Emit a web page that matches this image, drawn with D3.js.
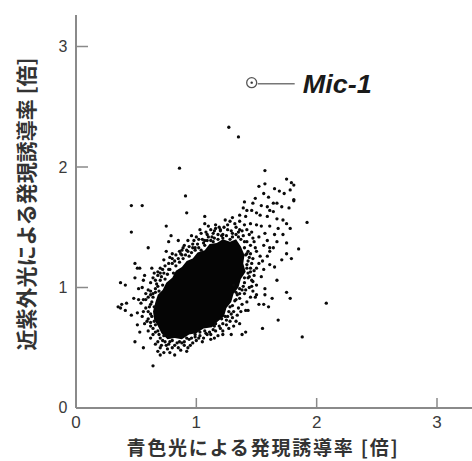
<!DOCTYPE html>
<html><head><meta charset="utf-8">
<script src="https://cdn.jsdelivr.net/npm/d3@7"></script>
<style>html,body{margin:0;padding:0;background:#fff;}svg{display:block;}</style>
</head><body>
<svg id="chart" width="472" height="461"></svg>
<script>
const xTicks = [0, 1, 2, 3];
const yTicks = [0, 1, 2, 3];
const xTitle = "青色光による発現誘導率 [倍]";
const yTitle = "近紫外光による発現誘導率 [倍]";
const mic1Label = "Mic-1";
const mic1 = [1.46, 2.70];

// saturated (solid black) core of the cloud
const coreOutline = [[0.64,0.80],[0.66,0.88],[0.68,0.94],[0.72,0.98],[0.75,1.04],[0.80,1.08],[0.83,1.14],[0.88,1.17],[0.92,1.22],[0.97,1.24],[1.01,1.29],[1.07,1.31],[1.11,1.36],[1.17,1.37],[1.22,1.40],[1.28,1.38],[1.33,1.40],[1.37,1.34],[1.40,1.27],[1.39,1.20],[1.41,1.13],[1.37,1.07],[1.35,1.00],[1.31,0.95],[1.29,0.88],[1.25,0.83],[1.23,0.76],[1.18,0.72],[1.13,0.67],[1.06,0.66],[1.00,0.62],[0.94,0.61],[0.88,0.57],[0.82,0.58],[0.76,0.57],[0.71,0.62],[0.68,0.68],[0.65,0.73]];

// individual genes outside the saturated core [blue, near-UV]
const outliers = [[1.27,2.33],[1.35,2.25],[0.86,1.99],[1.57,1.97],[0.91,1.76],[0.46,1.68],[0.55,1.68],[0.92,1.62],[0.46,1.46],[0.60,1.33],[0.75,1.51],[1.92,1.54],[1.85,1.32],[2.08,0.87],[1.88,0.59],[1.68,0.73],[1.55,0.66],[0.64,0.35],[0.37,1.04],[0.41,1.02],[0.35,0.84],[0.49,0.55],[0.56,0.50],[1.78,0.91],[1.75,0.96],[1.81,1.72]];
const upperRight = [[1.75,1.90],[1.79,1.87],[1.57,1.86],[1.81,1.85],[1.52,1.84],[1.65,1.82],[1.78,1.81],[1.69,1.80],[1.73,1.78],[1.56,1.78],[1.60,1.75],[1.49,1.74],[1.81,1.73],[1.40,1.71],[1.64,1.70],[1.67,1.70],[1.47,1.70],[1.71,1.67],[1.77,1.66],[1.54,1.68],[1.59,1.67],[1.39,1.66],[1.42,1.64],[1.46,1.64],[1.61,1.64],[1.64,1.63],[1.50,1.62],[1.53,1.60],[1.36,1.60],[1.41,1.59],[1.59,1.59],[1.67,1.57],[1.72,1.56],[1.75,1.53],[1.24,1.56],[1.28,1.55],[1.32,1.53],[1.45,1.53],[1.50,1.52],[1.54,1.51],[1.61,1.51],[1.68,1.49],[1.78,1.49],[1.36,1.48],[1.46,1.46],[1.57,1.45],[1.65,1.44],[1.72,1.44],[1.47,1.41],[1.59,1.39],[1.67,1.38],[1.75,1.37],[1.56,1.35],[1.61,1.33]];
const upperLeft = [[1.07,1.59],[1.03,1.48],[1.07,1.53],[1.10,1.51],[1.16,1.49],[1.20,1.48],[0.79,1.43],[0.85,1.39],[0.93,1.39],[0.98,1.39],[0.77,1.38],[0.89,1.33],[0.99,1.33],[1.07,1.35],[1.09,1.44],[1.13,1.42],[1.07,1.39],[1.14,1.38],[1.18,1.44],[1.22,1.41],[0.96,1.43],[1.00,1.42],[1.04,1.45],[1.12,1.48],[1.16,1.52],[1.26,1.52],[1.30,1.58],[1.36,1.55],[1.40,1.52],[1.42,1.48]];
const lowerLeft = [[0.75,1.30],[0.73,1.23],[0.80,1.24],[0.49,1.20],[0.51,1.16],[0.53,1.16],[0.63,1.16],[0.70,1.16],[0.68,1.10],[0.49,1.08],[0.56,1.06],[0.52,0.99],[0.62,1.04],[0.66,0.99],[0.62,0.94],[0.64,0.92],[0.48,0.91],[0.52,0.90],[0.56,0.90],[0.38,0.86],[0.42,0.87],[0.37,0.83],[0.41,0.81],[0.46,0.77],[0.51,0.79],[0.55,0.76],[0.51,0.69],[0.59,0.72],[0.62,0.68],[0.53,0.63],[0.64,0.61],[0.68,0.55],[0.71,0.52],[0.68,0.47],[0.70,0.44],[0.75,0.52],[0.80,0.50],[0.82,0.44],[0.87,0.48],[0.92,0.47],[0.88,0.54],[0.95,0.52],[0.99,0.59],[1.03,0.63],[1.09,0.61],[1.14,0.65],[1.20,0.66],[1.16,0.70],[0.85,0.50],[0.76,0.49],[0.72,0.56],[0.64,0.66],[0.60,0.74],[0.58,0.83],[0.58,0.90],[0.60,0.98],[0.64,1.08],[0.70,1.12],[0.74,1.18],[0.80,1.28],[0.86,1.30],[0.90,1.35]];
const lowerRight = [[1.75,1.28],[1.79,1.24],[1.71,1.23],[1.61,1.30],[1.64,1.33],[1.59,1.26],[1.61,1.19],[1.65,1.17],[1.56,1.15],[1.67,1.06],[1.54,1.09],[1.57,0.99],[1.43,1.08],[1.47,1.05],[1.46,1.01],[1.50,0.94],[1.49,0.92],[1.57,0.94],[1.63,0.91],[1.52,0.86],[1.56,0.86],[1.60,0.84],[1.38,0.86],[1.41,0.81],[1.43,0.81],[1.31,0.80],[1.34,0.77],[1.28,0.72],[1.36,0.70],[1.22,0.61],[1.29,0.61],[1.38,0.61],[1.41,0.63],[1.25,0.69],[1.24,0.76],[1.45,0.92],[1.50,1.02],[1.34,0.94],[1.36,0.99],[1.31,1.02],[1.45,1.13],[1.50,1.16],[1.42,1.19],[1.47,1.24],[1.53,1.26],[1.41,1.27],[1.44,1.44],[1.48,1.38],[1.52,1.42],[1.50,1.30],[1.46,1.20],[1.52,1.20],[1.55,1.22],[1.48,1.10],[1.44,1.00],[1.40,0.95],[1.42,0.88],[1.35,0.83],[1.30,0.75],[1.27,0.66],[1.18,0.60],[1.12,0.57],[1.05,0.55],[0.97,0.54]];
const coreEdge = [[1.30,1.45],[1.35,1.42],[1.40,1.38],[1.28,1.40],[1.43,1.30],[1.45,1.35],[1.38,1.47],[1.33,1.50],[1.26,1.48],[1.22,1.44],[0.62,0.86],[0.64,0.95],[0.67,1.03],[0.70,1.06],[0.73,1.12],[0.78,1.15],[0.80,1.20],[0.85,1.24],[0.88,1.27],[0.92,1.31],[0.97,1.33],[1.01,1.36],[1.05,1.40],[1.10,1.42],[1.14,1.45],[1.20,1.47],[1.44,1.25],[1.43,1.12],[1.40,1.08],[1.38,0.98],[1.33,0.90],[1.30,0.85],[1.26,0.76],[1.22,0.70],[1.16,0.64],[1.08,0.62],[1.02,0.58],[0.94,0.57],[0.90,0.52],[0.82,0.52],[0.78,0.55],[0.73,0.60],[0.68,0.64],[0.65,0.72],[0.62,0.78]];
const coreBand = [[0.60,0.80],[0.61,0.84],[0.63,0.76],[0.62,0.71],[0.66,0.69],[0.63,0.88],[0.65,0.84],[0.60,0.92],[0.62,0.97],[0.66,0.96],[0.69,0.97],[0.68,1.01],[0.72,1.02],[0.66,1.06],[0.71,1.09],[0.74,1.07],[0.76,1.11],[0.77,1.15],[0.81,1.12],[0.83,1.18],[0.82,1.22],[0.86,1.21],[0.89,1.24],[0.87,1.28],[0.91,1.27],[0.94,1.26],[0.93,1.30],[0.96,1.29],[0.99,1.31],[1.02,1.33],[1.04,1.31],[1.06,1.37],[1.09,1.39],[1.12,1.39],[1.15,1.41],[1.18,1.40],[1.21,1.43],[1.25,1.43],[1.30,1.42],[1.33,1.44],[1.37,1.40],[1.40,1.33],[1.42,1.28],[1.43,1.22],[1.42,1.16],[1.45,1.16],[1.44,1.09],[1.40,1.04],[1.39,1.01],[1.36,0.95],[1.33,0.96],[1.32,0.89],[1.28,0.84],[1.27,0.80],[1.25,0.73],[1.21,0.74],[1.19,0.68],[1.15,0.68],[1.11,0.63],[1.07,0.64],[1.03,0.60],[0.99,0.61],[0.96,0.58],[0.92,0.58],[0.90,0.55],[0.86,0.55],[0.84,0.54],[0.80,0.56],[0.77,0.53],[0.74,0.55],[0.70,0.58],[0.69,0.61],[0.66,0.63],[0.70,0.50],[0.73,0.46],[0.78,0.46],[0.93,0.50],[1.00,0.56],[1.06,0.58],[1.12,0.61],[1.15,0.58],[1.22,0.64],[1.31,0.68],[1.33,0.72],[1.29,0.78],[1.37,0.80],[1.36,0.91],[1.41,0.98],[1.47,0.97],[1.46,1.06],[1.48,1.14],[1.45,1.28],[1.49,1.33],[1.42,1.38],[1.39,1.43],[1.35,1.46],[1.29,1.47],[1.23,1.50],[1.19,1.50],[1.15,1.47],[1.08,1.46],[1.02,1.40],[0.97,1.36],[0.94,1.34],[0.88,1.31],[0.83,1.27],[0.78,1.25],[0.77,1.20],[0.72,1.15],[0.68,1.13],[0.65,1.12],[0.57,1.10],[0.55,1.00],[0.58,0.95],[0.54,0.87],[0.56,0.80],[0.57,0.70],[0.60,0.64],[0.62,0.58],[0.66,0.53]];

const points = [].concat(outliers, upperRight, upperLeft, lowerLeft, lowerRight, coreEdge, coreBand);

const svg = d3.select("#chart");
const x = d3.scaleLinear().domain([0, 3]).range([76, 437]);
const y = d3.scaleLinear().domain([0, 3]).range([408, 46.5]);
const axisColor = "#8a8a8a";
const textColor = "#3a3a3a";

// core
svg.append("path")
  .datum(coreOutline)
  .attr("d", d3.line().x(d => x(d[0])).y(d => y(d[1])).curve(d3.curveLinearClosed))
  .attr("fill", "#050505");

// points
svg.append("g").selectAll("circle").data(points).join("circle")
  .attr("cx", d => x(d[0])).attr("cy", d => y(d[1]))
  .attr("r", 1.65).attr("fill", "#0a0a0a");

// axes lines
svg.append("line").attr("x1", x(0)).attr("x2", 472).attr("y1", y(0)).attr("y2", y(0))
  .attr("stroke", axisColor).attr("stroke-width", 2);
svg.append("line").attr("x1", x(0)).attr("x2", x(0)).attr("y1", 15).attr("y2", y(0))
  .attr("stroke", axisColor).attr("stroke-width", 2);

// ticks
svg.append("g").selectAll("line").data(xTicks.filter(t => t > 0)).join("line")
  .attr("x1", d => x(d)).attr("x2", d => x(d)).attr("y1", y(0)).attr("y2", y(0) - 10)
  .attr("stroke", axisColor).attr("stroke-width", 1.5);
svg.append("g").selectAll("line").data(yTicks.filter(t => t > 0)).join("line")
  .attr("y1", d => y(d)).attr("y2", d => y(d)).attr("x1", x(0)).attr("x2", x(0) + 12)
  .attr("stroke", axisColor).attr("stroke-width", 1.5);

// tick labels
svg.append("g").selectAll("text").data(xTicks).join("text")
  .attr("x", d => x(d)).attr("y", 428)
  .attr("text-anchor", "middle")
  .attr("font-family", "Liberation Sans, Arial, sans-serif").attr("font-size", 17)
  .attr("fill", textColor).text(d => d);
svg.append("g").selectAll("text").data(yTicks).join("text")
  .attr("x", 63).attr("y", d => y(d) + (d === 0 ? -1 : 0))
  .attr("dy", "0.35em")
  .attr("text-anchor", "middle")
  .attr("font-family", "Liberation Sans, Arial, sans-serif").attr("font-size", 16)
  .attr("fill", textColor).text(d => d);

// axis titles
svg.append("text").attr("x", 263).attr("y", 455)
  .attr("text-anchor", "middle")
  .attr("font-family", "Noto Sans CJK JP").attr("font-weight", "bold").attr("font-size", 19)
  .attr("letter-spacing", 1.8)
  .attr("fill", "#333").text(xTitle);
svg.append("text").attr("transform", "translate(25,204) rotate(-90)")
  .attr("text-anchor", "middle").attr("dominant-baseline", "central")
  .attr("font-family", "Noto Sans CJK JP").attr("font-weight", "bold").attr("font-size", 21)
  .attr("fill", "#333").text(yTitle);

// Mic-1 annotation
const mx = x(mic1[0]), my = y(mic1[1]);
svg.append("circle").attr("cx", mx).attr("cy", my).attr("r", 5)
  .attr("fill", "none").attr("stroke", "#555").attr("stroke-width", 1.3);
svg.append("circle").attr("cx", mx).attr("cy", my).attr("r", 1.2).attr("fill", "#333");
svg.append("line").attr("x1", mx + 6).attr("x2", mx + 43).attr("y1", my + 1).attr("y2", my + 1)
  .attr("stroke", "#777").attr("stroke-width", 1.5);
svg.append("text").attr("x", mx + 51).attr("y", my + 10)
  .attr("font-family", "Liberation Sans, Arial, sans-serif").attr("font-weight", "bold")
  .attr("font-style", "italic").attr("font-size", 25).attr("fill", "#1a1a1a")
  .attr("textLength", 69).attr("lengthAdjust", "spacingAndGlyphs")
  .text(mic1Label);
</script>
</body></html>
